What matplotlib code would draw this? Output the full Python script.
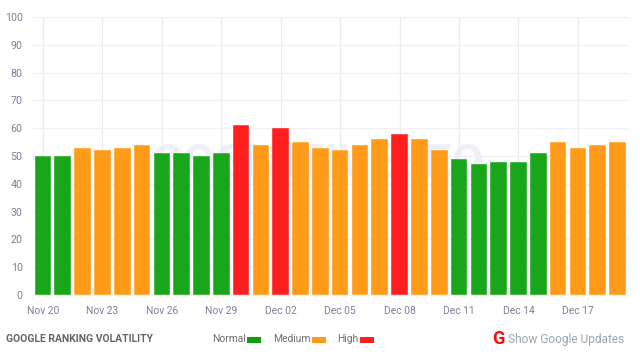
import matplotlib
matplotlib.use("Agg")
import matplotlib.pyplot as plt
from matplotlib.patches import Rectangle
import pandas as pd

plt.rcParams['font.family'] = ['Roboto', 'DejaVu Sans']

# chart values
dates = pd.date_range('2023-11-20', periods=30, freq='D')
volatility = [50, 50, 53, 52, 53, 54, 51, 51, 50, 51, 61, 54, 60, 55, 53,
              52, 54, 56, 58, 56, 52, 49, 47, 48, 48, 51, 55, 53, 54, 55]
levels = ['Normal', 'Normal', 'Medium', 'Medium', 'Medium', 'Medium', 'Normal', 'Normal', 'Normal', 'Normal',
          'High', 'Medium', 'High', 'Medium', 'Medium', 'Medium', 'Medium', 'Medium', 'High', 'Medium',
          'Medium', 'Normal', 'Normal', 'Normal', 'Normal', 'Normal', 'Medium', 'Medium', 'Medium', 'Medium']
level_colors = {'Normal': '#1aa61a', 'Medium': '#ff9b19', 'High': '#ff1f1f'}
y_ticks = list(range(0, 101, 10))
W, H = 640, 361

fig = plt.figure(figsize=(W / 100, H / 100), dpi=100)
ax = fig.add_axes([33 / W, 1 - 295 / H, (628 - 33) / W, (295 - 17) / H])

positions = list(range(len(volatility)))
colors = [level_colors[l] for l in levels]
ax.bar(positions, volatility, width=0.84, color=colors, edgecolor='#ffffff', linewidth=0.3, zorder=3)

ax.set_xlim(-0.505, 29.53)
ax.set_ylim(0, 100)
ax.set_yticks(y_ticks)
ax.set_xticks(positions[::3])
ax.set_xticklabels([d.strftime('%b %d') for d in dates[::3]])
ax.grid(True, axis='y', color='#f1f1f5', linewidth=1, zorder=0, clip_on=False)
ax.grid(True, axis='x', color='#ebebf0', linewidth=1, zorder=0)
ax.tick_params(length=0, labelcolor='#7d7d9c')
ax.tick_params(axis='x', pad=8, labelsize=7.4)
ax.tick_params(axis='y', pad=7.5, labelsize=7.7)
for s in ax.spines.values():
    s.set_visible(False)

# faint watermark behind the bars
ax.text(0.479, 0.47, 'COGNITIVESEO', transform=ax.transAxes, ha='center', va='center',
        fontsize=34, fontweight='bold', color='#eef0f8', zorder=1)

# footer
def px_text(x, txt, **kw):
    fig.text(x / W, 1 - 339.5 / H, txt, va='center', **kw)

px_text(6, 'GOOGLE RANKING VOLATILITY', fontsize=7.45, fontweight='bold', color='#666666')
px_text(212, 'Normal', fontsize=7.4, color='#6f6f6f')
px_text(273, 'Medium', fontsize=7.4, color='#6f6f6f')
px_text(337, 'High', fontsize=7.4, color='#6f6f6f')
for x0, name in [(247, 'Normal'), (312, 'Medium'), (360, 'High')]:
    swatch = '#0ca00c' if name == 'Normal' else level_colors[name]
    fig.add_artist(Rectangle((x0 / W, 1 - 342.5 / H), 14 / W, 6 / H,
                             transform=fig.transFigure, color=swatch, lw=0))
px_text(492.5, 'G', fontsize=13, fontweight='bold', color='#f01010')
px_text(508, 'Show Google Updates', fontsize=8.55, color='#9aa5ae')

fig.savefig('out.png', dpi=100)
